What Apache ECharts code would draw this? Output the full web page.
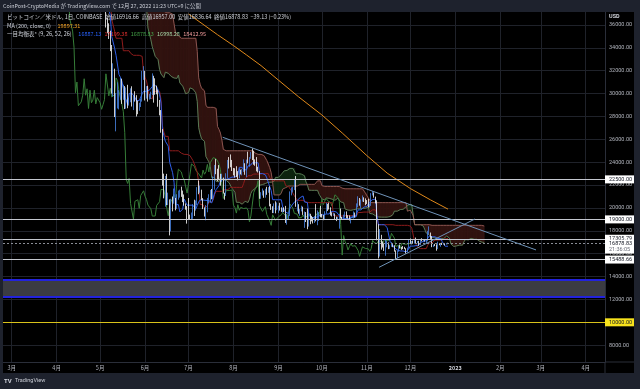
<!DOCTYPE html>
<html><head><meta charset="utf-8">
<script src="https://cdn.jsdelivr.net/npm/echarts@6/dist/echarts.min.js"></script>
<style>html,body{margin:0;padding:0;background:#000;}#c{width:640px;height:389px;}</style>
</head><body><div id="c"></div>
<script>
// ---- daily BTC/USD (Coinbase) from 2022-03-01 ----
const firstOpen = 43160;
const closes = [
44420,43910,42450,39140,39400,38420,37990,38730,41940,39420,38730,38810,37790,39670,39280,41120,40920,41760,42200,41260,41000,42360,42890,43960,44350,44500,46820,47130,47430,47060,45530,
46280,45830,46400,46600,45500,43170,43450,42250,42750,42150,39520,40080,41150,39940,40550,40400,39680,40800,41500,41370,40480,39700,39450,39450,40430,38120,39240,39740,38600,37640,
38470,38530,37750,39700,36560,36030,35470,34060,30080,31010,28940,29040,29280,29860,31300,29860,30420,28700,30300,29200,29430,30300,29100,29650,29540,29200,28630,29030,29470,31730,31800,
29800,30460,29700,29860,29910,31370,31130,30210,30110,29090,28420,26580,22490,22140,22580,20390,20460,19020,20580,20570,20720,19970,21090,21230,21500,21030,20730,20250,20100,19930,
19290,19240,19300,20220,20190,20540,21620,21590,21590,20850,19960,19320,20220,20580,20830,21200,20780,22430,23390,23230,23150,22680,22450,22580,21300,21240,22950,23850,23770,23640,23300,
23270,22980,22820,22620,23310,22950,23170,23810,23150,23950,23930,24400,24440,24300,24100,23850,23340,23210,20830,21140,21520,21400,21530,21370,21570,20250,20040,19550,20290,19800,20050,
20130,19950,19830,20000,19800,18790,19290,19320,21360,21650,21830,22400,20170,20230,19700,19800,20110,19420,19540,18880,18480,19400,19290,18920,18800,19220,19080,19410,19590,19420,
19310,19060,19630,20340,20160,19960,19530,19420,19450,19130,19060,19160,19380,19180,19070,19270,19550,19330,19120,19040,19170,19210,19570,19330,20090,20770,20290,20600,20820,20630,20490,
20480,20160,20210,21150,21300,20920,20590,18540,15880,17590,17050,16810,16330,16620,16900,16660,16690,16700,16630,16270,15770,16210,16600,16520,16460,16440,16430,16210,16440,17160,
16970,17090,16890,17110,16970,17090,16840,17230,17130,17130,17090,17210,17780,17810,17360,16630,16780,16740,16440,16900,16820,16830,16780,16840,16830,16916.66,16878.83];
const highs = [
44950,45400,44100,42520,39650,39670,39480,39360,42580,42040,40260,39360,39300,39940,39900,41720,41460,42330,42400,42300,41540,43360,42990,44200,45090,44800,46930,48190,48100,47690,47580,
46700,47200,47440,46900,47200,45500,43900,43960,42800,43420,42410,40690,41540,41500,40870,40700,40600,41100,41760,42200,42980,40780,39990,39900,40600,40800,39460,40370,39900,38800,
38650,39150,38640,40000,39810,36650,36150,35500,34250,32650,32180,30050,30990,30300,31390,31300,30780,30660,30540,30770,29630,30460,30640,29820,30210,29860,29380,29200,29550,31990,32400,
31990,30660,30680,29970,30170,31770,31560,31340,30700,30360,29450,28560,26900,23000,22800,22980,21340,20750,20800,21000,21700,20870,21200,21520,21600,21860,21520,21180,20400,20160,
20870,19420,19600,20330,20720,20650,21820,22400,21960,21600,20860,20040,20250,20880,21200,21570,21660,22760,23760,24280,23430,23750,22990,22990,22660,21330,23030,24200,24450,24680,24200,
23500,23470,23650,23220,23460,23350,23400,24250,23910,24230,24920,24450,24890,25210,25000,24250,24450,23600,23220,21380,21700,21520,21680,21850,21820,21900,20360,20150,20400,20580,20480,
20200,20450,20050,20000,20050,20180,19460,19420,21450,21800,21850,22480,22790,20560,20330,19900,20200,20110,19690,19640,19950,19490,19490,19310,19180,19310,20340,19780,19650,20170,
19480,19390,19710,20460,20360,20460,20060,19620,19560,19520,19240,19220,19500,19950,19220,19420,19680,19700,19360,19350,19250,19250,19700,19600,20400,21020,20870,20750,21090,20930,20840,
20690,20800,20390,21300,21480,21360,20990,20670,18580,18150,17650,17080,16890,17190,17120,16990,16740,17000,16820,16740,16290,16290,16700,16800,16600,16670,16600,16480,16530,17240,
17330,17110,17150,17200,17410,17110,17130,17290,17350,17230,17260,17240,18000,18390,17850,17530,16800,16860,16820,17050,16910,16870,16960,16870,16860,16940,16957];
const lows = [
42810,43330,41840,38650,38580,38100,37180,37860,38660,38540,38220,38670,37580,37560,38110,38840,40530,40130,41500,40920,40510,40890,41830,42600,43600,44100,44400,46670,46950,46590,45200,
44200,45630,45550,45150,45370,43130,42730,42120,42130,41880,39200,39250,39550,39560,39770,40010,39550,38540,40570,40860,39750,39180,39300,39000,38200,37720,37870,38890,38180,37600,
37390,38060,37510,37690,35780,35280,34780,33710,30000,29750,27950,26700,28700,28620,29460,29100,29460,28650,28680,28720,28950,29240,28870,28560,29300,28000,28200,28500,28830,29300,31200,
29400,29560,29300,29480,29520,29880,29210,29900,29940,28850,28100,26580,21950,20840,20110,20250,20250,17600,17950,19700,20370,19790,19910,20720,20900,20970,20510,20200,19850,18630,
19000,19030,18990,19050,19300,19770,20240,21200,21330,20680,19900,19250,18920,19620,20400,20480,20760,20770,21600,22950,22350,22500,21950,22290,21260,20720,21050,22600,23450,23560,23230,
22850,22660,22700,22420,22590,22930,22850,23150,22900,22700,23900,23600,24300,24190,23780,23690,23200,23100,20800,20800,21090,20890,20900,21150,21330,20140,19830,19550,19550,19530,19800,
19570,19770,19660,19600,19640,18690,18540,19020,19300,21100,21370,21560,20100,19700,19500,19310,19700,19390,18260,18770,18140,18370,18580,18830,18640,18690,18830,18490,18860,19180,
19160,18930,19020,19510,19740,19860,19340,19260,19320,19030,18850,18960,18190,19090,18980,19070,19160,19100,19070,18900,18650,19110,19070,19160,19240,20060,20200,20000,20560,20520,20240,
20350,20060,20050,20180,21090,20900,20400,17170,15590,15750,16360,16540,16240,15820,16560,16400,16420,16600,16570,16180,15480,15620,16170,16460,16340,16400,16400,16000,16110,16440,
16870,16800,16870,16880,16910,16910,16690,16740,17080,17090,17070,16880,17090,17670,17290,16570,16580,16660,16260,16400,16740,16600,16760,16780,16730,16790,16836.64];

// ---- MA(200) ----
const maDates  = ['2022-07-01','2022-07-11','2022-07-21','2022-08-01','2022-08-10','2022-08-20','2022-09-01','2022-09-15','2022-10-01','2022-10-15','2022-11-01','2022-11-15','2022-12-01','2022-12-15','2022-12-27'];
const maValues = [36960,36060,35150,34200,33380,32450,31180,29710,28130,26560,24580,23050,21700,20700,19897.31];

// ---- drawings ----
const whiteLevels = [22500, 19000, 17305.79, 15488.66];
const lastPrice = 16878.83;
const countdown = '21:36:05';
const yellowLevel = 10000;
const boxRange = [12240, 13700];
const trendDown = [['2022-07-24 14:00', 26180], ['2023-02-25 17:00', 16330]];
const trendUp   = [['2022-11-09 10:00', 14810], ['2023-01-14 14:00', 19035]];

// ---- axes ----
const yTicks = [8000,10000,12000,14000,16000,18000,20000,22000,24000,26000,28000,30000,32000,34000,36000];
const monthTicks = ['2022-03-01','2022-04-01','2022-05-01','2022-06-01','2022-07-01','2022-08-01','2022-09-01','2022-10-01','2022-11-01','2022-12-01','2023-01-01','2023-02-01','2023-03-01','2023-04-01'];
const ichiParams = [9, 26, 52, 26];

const toT = s => { const [dp, tp] = s.split(' '); const [y,m,d] = dp.split('-').map(Number); const [hh, mm] = tp ? tp.split(':').map(Number) : [0, 0]; return +new Date(y, m-1, d, hh, mm); };
const dayT = i => +new Date(2022, 2, 1 + i);
const N = closes.length;
const opens = closes.map((c, i) => i === 0 ? firstOpen : closes[i-1]);
const candles = closes.map((c, i) => [dayT(i), opens[i], c, lows[i], highs[i]]);

function mid(len, i) {
  if (i < len - 1) return null;
  let h = -Infinity, l = Infinity;
  for (let k = i - len + 1; k <= i; k++) { h = Math.max(h, highs[k]); l = Math.min(l, lows[k]); }
  return (h + l) / 2;
}
const SHIFT = ichiParams[3] - 1;
const tenkan = [], kijun = [], spanA = [], spanB = [], chikou = [], cloudPts = [];
for (let i = 0; i < N; i++) {
  const tk = mid(ichiParams[0], i), kj = mid(ichiParams[1], i), sb = mid(ichiParams[2], i);
  if (tk !== null) tenkan.push([dayT(i), tk]);
  if (kj !== null) kijun.push([dayT(i), kj]);
  if (tk !== null && kj !== null) spanA.push([dayT(i + SHIFT), (tk + kj) / 2]);
  if (sb !== null) spanB.push([dayT(i + SHIFT), sb]);
  if (sb !== null && kj !== null) cloudPts.push([dayT(i + SHIFT), (tk + kj) / 2, sb]);
  chikou.push([dayT(i - SHIFT), closes[i]]);
}
const cloudSegs = [];
for (let k = 0; k + 1 < cloudPts.length; k++) cloudSegs.push(cloudPts[k].concat(cloudPts[k + 1]));

const RED_CLOUD = '#331411', GREEN_CLOUD = '#0f2611';
function renderCloud(params, api) {
  const t0 = api.value(0), a0 = api.value(1), b0 = api.value(2), t1 = api.value(3), a1 = api.value(4), b1 = api.value(5);
  const P = (t, v) => api.coord([t, v]);
  const d0 = b0 - a0, d1 = b1 - a1;
  const poly = (pts, col) => ({type: 'polygon', shape: {points: pts}, style: {fill: col, stroke: col, lineWidth: 0.6}, silent: true});
  if (d0 * d1 >= 0) return poly([P(t0, a0), P(t1, a1), P(t1, b1), P(t0, b0)], (d0 + d1) >= 0 ? RED_CLOUD : GREEN_CLOUD);
  const f = d0 / (d0 - d1), tc = t0 + f * (t1 - t0), vc = a0 + f * (a1 - a0);
  return {type: 'group', children: [
    poly([P(t0, a0), P(tc, vc), P(t0, b0)], d0 > 0 ? RED_CLOUD : GREEN_CLOUD),
    poly([P(tc, vc), P(t1, a1), P(t1, b1)], d1 > 0 ? RED_CLOUD : GREEN_CLOUD)]};
}

const FONT = "'Noto Sans CJK JP', Roboto, sans-serif";
const lvlLabel = (bg, fg) => ({show: true, position: 'end', distance: 0,
  formatter: p => Number(p.value).toFixed(2), backgroundColor: bg, color: fg,
  fontSize: 5.5, fontFamily: 'Roboto', padding: [1.2, 4, 0.8, 4], lineHeight: 6});

const markLines = whiteLevels.map(v => ({yAxis: v, lineStyle: {color: '#c4c7cf', width: 1, type: 'solid'}, label: lvlLabel('#ffffff', '#131722')}));
markLines.push({yAxis: lastPrice, lineStyle: {color: '#8a8d96', width: 1, type: [2, 2]},
  label: {show: true, position: 'end', distance: 0, formatter: () => '{v|' + lastPrice.toFixed(2) + '}\n{c|' + countdown + '}',
    backgroundColor: '#ffffff', padding: [1, 4, 0.5, 4], offset: [0, 3],
    rich: {v: {color: '#131722', fontSize: 5.5, fontFamily: 'Roboto', lineHeight: 6.2}, c: {color: '#6a6d78', fontSize: 5.5, fontFamily: 'Roboto', lineHeight: 6.2}}}});
markLines.push({yAxis: yellowLevel, lineStyle: {color: '#d9c21a', width: 1, type: 'solid'}, label: lvlLabel('#f7e21c', '#131722')});
boxRange.forEach(v => markLines.push({yAxis: v, lineStyle: {color: '#2222dd', width: 2, type: 'solid'}, label: {show: false}}));

const lineS = (name, data, color, extra) => Object.assign({type: 'line', name, data, showSymbol: false, symbol: 'none',
  lineStyle: {color, width: 1}, silent: true, animation: false, z: 3}, extra || {});

const monthVals = monthTicks.map(toT);
const option = {
  backgroundColor: '#000000',
  animation: false,
  grid: {left: 3, right: 35, top: 12, bottom: 27, outerBoundsMode: 'none'},
  xAxis: {type: 'value', min: toT('2022-02-23'), max: toT('2023-04-14 07:12'),
    axisLine: {show: true, lineStyle: {color: '#2a2e39'}},
    axisTick: {show: false, customValues: monthVals},
    axisLabel: {customValues: monthVals, color: '#b2b5be', fontSize: 5.5, fontFamily: FONT, margin: 3, hideOverlap: false,
      formatter: v => { const d = new Date(v); return d.getMonth() === 0 ? '{y|' + d.getFullYear() + '}' : (d.getMonth() + 1) + '月'; },
      rich: {y: {color: '#d1d4dc', fontWeight: 'bold', fontSize: 5.5, fontFamily: FONT}}},
    splitLine: {show: true, lineStyle: {color: '#1f222a', width: 1}}},
  yAxis: {type: 'value', position: 'right', min: 6529, max: 37137, scale: true,
    axisLine: {show: true, lineStyle: {color: '#2a2e39'}},
    axisTick: {show: false, customValues: yTicks},
    axisLabel: {customValues: yTicks, formatter: v => Number(v).toFixed(2), color: '#b2b5be', fontSize: 5.5, fontFamily: 'Roboto', margin: 4},
    splitLine: {show: true, lineStyle: {color: '#1f222a', width: 1}}},
  series: [
    {type: 'custom', name: 'cloud', data: cloudSegs, renderItem: renderCloud, clip: true, silent: true, animation: false, z: 1,
      encode: {x: [0, 3], y: [1, 2, 4, 5]}},
    lineS('spanA', spanA, '#587a55'),
    lineS('spanB', spanB, '#8a5550'),
    lineS('chikou', chikou, '#367d38'),
    lineS('kijun', kijun, '#8e1c1c'),
    lineS('tenkan', tenkan, '#2f5fe8'),
    lineS('ma200', maDates.map((d, i) => [toT(d), maValues[i]]), '#e0891a'),
    {type: 'candlestick', name: 'BTCUSD', data: candles, barWidth: 1.1, z: 4, silent: true, animation: false,
      itemStyle: {color: '#4a86e8', color0: '#ffffff', borderColor: '#4a86e8', borderColor0: '#ffffff', borderWidth: 0.8},
      markArea: {silent: true, itemStyle: {color: '#3b3c42'}, data: [[{yAxis: boxRange[0]}, {yAxis: boxRange[1]}]]},
      markLine: {silent: true, symbol: ['none', 'none'], animation: false, data: markLines}},
    lineS('trendDown', trendDown.map(p => [toT(p[0]), p[1]]), '#6f93b8', {z: 6}),
    lineS('trendUp', trendUp.map(p => [toT(p[0]), p[1]]), '#6f93b8', {z: 6})
  ],
  graphic: [
    {type: 'rect', shape: {x: 0, y: 0, width: 640, height: 12}, style: {fill: '#1e222d'}, z: 100},
    {type: 'rect', shape: {x: 0, y: 373, width: 640, height: 16}, style: {fill: '#1e222d'}, z: 100},
    {type: 'rect', shape: {x: 0, y: 0, width: 3, height: 389}, style: {fill: '#1e222d'}, z: 100},
    {type: 'rect', shape: {x: 634, y: 0, width: 6, height: 389}, style: {fill: '#1e222d'}, z: 100},
    {type: 'line', shape: {x1: 605, y1: 362, x2: 605, y2: 373}, style: {stroke: '#2a2e39', lineWidth: 1}, z: 100},
    {type: 'line', shape: {x1: 605, y1: 362, x2: 634, y2: 362}, style: {stroke: '#2a2e39', lineWidth: 1}, z: 100},
    {type: 'text', x: 3, y: 6, z: 101, style: {text: 'CoinPost-CryptoMedia が TradingView.com で 12月 27, 2022 11:23 UTC+9 に公開', fill: '#c9ccd4', fontSize: 5.4, fontFamily: FONT, verticalAlign: 'middle'}},
    {type: 'text', x: 609, y: 17, z: 101, style: {text: 'USD', fill: '#d1d4dc', fontSize: 5.5, fontFamily: 'Roboto', fontWeight: 'bold', verticalAlign: 'middle'}},
    {type: 'text', x: 7, y: 17, z: 101, style: {text: 'ビットコイン／米ドル, 1日, COINBASE  始値16916.66  高値16957.00  安値16836.64  終値16878.83  −39.13 (−0.23%)', fill: '#d1d4dc', fontSize: 5.5, fontFamily: FONT, verticalAlign: 'middle'}},
    {type: 'text', x: 7, y: 25.7, z: 101, style: {text: '{l|MA (200, close, 0)}  {o|19897.31}', verticalAlign: 'middle',
      rich: {l: {fill: '#d1d4dc', fontSize: 5.5, fontFamily: FONT}, o: {fill: '#f0a020', fontSize: 5.5, fontFamily: FONT}}}},
    {type: 'text', x: 7, y: 34.3, z: 101, style: {text: '{l|一目均衡表* (' + ichiParams.join(', ') + ')}  {b|16887.13} {r|17109.38} {g|16878.83} {h|16998.28} {p|18412.95}', verticalAlign: 'middle',
      rich: {l: {fill: '#d1d4dc', fontSize: 5.5, fontFamily: FONT}, b: {fill: '#2962ff', fontSize: 5.5, fontFamily: FONT}, r: {fill: '#e0302f', fontSize: 5.5, fontFamily: FONT},
        g: {fill: '#43a047', fontSize: 5.5, fontFamily: FONT}, h: {fill: '#a5d6a7', fontSize: 5.5, fontFamily: FONT}, p: {fill: '#ef9a9a', fontSize: 5.5, fontFamily: FONT}}}},
    {type: 'text', x: 4, y: 381, z: 101, style: {text: '{t|TV} {n|TradingView}', verticalAlign: 'middle',
      rich: {t: {fill: '#d1d4dc', fontSize: 6, fontWeight: 'bold', fontFamily: 'Roboto'}, n: {fill: '#c9ccd4', fontSize: 5.5, fontFamily: 'Roboto'}}}}
  ]
};
const chart = echarts.init(document.getElementById('c'), null, {renderer: 'canvas', width: 640, height: 389});
chart.setOption(option);
</script></body></html>
